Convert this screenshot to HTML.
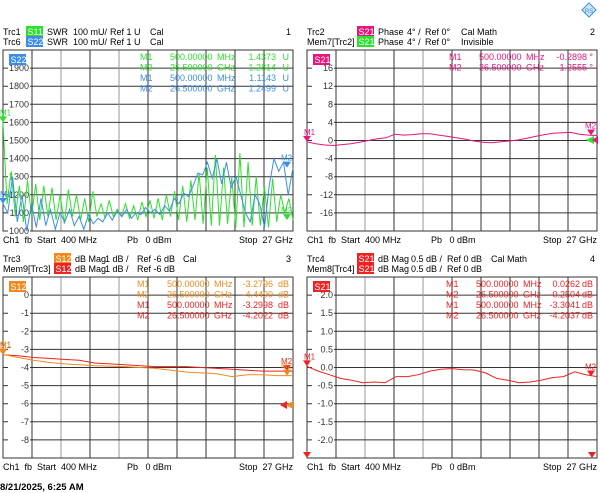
<!DOCTYPE html>
<html><head><meta charset="utf-8"><style>
html,body{margin:0;padding:0;background:#fff;}
svg{display:block;font-family:"Liberation Sans",sans-serif;}
svg text{white-space:pre;}
</style></head><body>
<svg id="s" width="600" height="493" viewBox="0 0 600 493" xmlns="http://www.w3.org/2000/svg">
<g><rect x="584" y="5" width="10" height="10" transform="rotate(45 589 10)" fill="#cfe6fa" stroke="#3a8fd8" stroke-width="1"/><text x="589" y="13" font-size="6" fill="#3a8fd8" text-anchor="middle">RS</text></g>
<text x="0" y="490" font-size="9.5" font-weight="bold" fill="#000">8/21/2025, 6:25 AM</text>
</svg>
<script>
// ---- data (x spans Start 400 MHz to Stop 27 GHz uniformly) ----
const p1Ticks=["1900","1800","1700","1600","1500","1400","1300","1200","1100","1000"];
const p2Ticks=["16","12","8","4","0","-4","-8","-12","-16"];
const p3Ticks=["0","-1","-2","-3","-4","-5","-6","-7","-8"];
const p4Ticks=["2.0","1.5","1.0","0.5","0.0","-0.5","-1.0","-1.5","-2.0"];
const s11Swr=[1600,1150,1330,1080,1250,1050,1280,1080,1260,1060,1250,1080,1240,1060,1200,1040,1230,1080,1200,1060,1180,1050,1220,1080,1150,1070,1170,1080,1120,1080,1150,1070,1140,1060,1160,1080,1170,1070,1180,1060,1200,1080,1220,1060,1250,1050,1280,1060,1320,1040,1350,1030,1420,1030,1350,1040,1300,1020,1430,1020,1380,1030,1300,1030,1250,1020,1290,1050,1200,1100,1180,1060];
const s22Swr=[1150,1100,1300,1050,1200,1000,1150,1020,1180,1030,1120,1010,1100,1050,1120,1030,1080,1010,1090,1040,1070,1050,1100,1060,1110,1080,1120,1070,1100,1090,1130,1100,1120,1090,1140,1110,1180,1150,1210,1190,1250,1320,1310,1380,1290,1400,1260,1380,1240,1300,1200,1100,1050,1200,1150,1020,1250,1400,1330,1380,1200,1350];
const s21Phase=[-0.3,-0.7,-1.0,-1.1,-0.9,-0.7,-0.4,0,0.4,0.6,1.4,1.2,1.3,1.5,1.5,1.2,0.9,0.6,0.3,-0.1,-0.4,-0.5,-0.3,-0.1,0.1,0.5,0.9,1.3,1.6,1.7,1.8,1.4,1.2,1.1];
const s12Mag=[-3.28,-3.45,-3.6,-3.72,-3.8,-3.85,-3.9,-3.92,-3.95,-4.0,-4.05,-4.15,-4.25,-4.3,-4.35,-4.5,-4.4,-4.4,-4.45,-4.45];
const s12Mem=[-3.3,-3.35,-3.45,-3.5,-3.55,-3.6,-3.75,-3.8,-3.85,-3.9,-3.95,-3.95,-3.95,-4.0,-4.05,-4.1,-4.15,-4.2,-4.2,-4.2];
const s21Mag=[0.03,-0.1,-0.2,-0.3,-0.35,-0.42,-0.4,-0.42,-0.25,-0.25,-0.2,-0.1,-0.05,-0.03,-0.06,-0.07,-0.15,-0.3,-0.35,-0.42,-0.4,-0.35,-0.28,-0.25,-0.12,-0.2,-0.25];

const S=document.getElementById('s');const NS='http://www.w3.org/2000/svg';
const FS=9;
function mk(t,a,p){const e=document.createElementNS(NS,t);for(const k in a)e.setAttribute(k,a[k]);(p||S).appendChild(e);return e;}
function txt(x,y,s,c,anchor,p,size){const e=mk('text',{x:x,y:y,'font-size':size||FS,fill:c||'#000','text-anchor':anchor||'start'},p);e.textContent=s;return e;}
function badge(x,y,s,bg,p){mk('rect',{x:x,y:y-9,width:17,height:11,fill:bg},p);txt(x+1.5,y,s,'#fff','start',p,9);}

function panel(o){
 const g=mk('g',{});
 
 
 const L=o.x,R=o.x+290,T=o.y,B=o.y+181;
 const xs=v=>L+v*(R-L), ys=v=>T+(o.top-v)/(o.top-o.bot)*(B-T);
 o.hdr.forEach((h,i)=>{const y=T-15+i*10;txt(L,y,h[0],'#000','start',g);badge(L+o.bx,y,h[1],h[2],g);
  h[3].forEach(p=>txt(L+p[1],y,p[0],'#000','start',g));});
 txt(R-2,T-15,o.num,'#000','end',g);
 for(let i=1;i<10;i++){mk('line',{x1:L+i*29,x2:L+i*29,y1:T,y2:B,stroke:(i%2==0&&i<5)?'#999':'#333','stroke-width':1},g);
  mk('line',{x1:L,x2:R,y1:T+i*18.1,y2:T+i*18.1,stroke:'#333','stroke-width':1},g);}
 mk('rect',{x:L,y:T,width:290,height:181,fill:'none',stroke:'#333'},g);
 o.ticks.forEach((t,i)=>{const y=T+(i+1)*18.1;mk('rect',{x:L+5,y:y-4,width:22,height:8,fill:'#fff'},g);txt(L+26,y+3,t,'#333','end',g);});
 badge(L+6,T+13,o.badge[0],o.badge[1],g);
 o.mk.forEach((m,i)=>{const y=T+10+i*10.5;txt(L+o.mx,y,m[0],m[4],'start',g);txt(L+o.mx+30,y,m[1],m[4],'start',g);txt(L+o.mx+77,y,m[2],m[4],'start',g);txt(R-o.vr,y,m[3],m[4],'end',g);txt(R-4,y,o.unit,m[4],'end',g);});
 o.tr.forEach(t=>{const d=t.v.map((v,i)=>(i?'L':'M')+xs(i/(t.v.length-1)).toFixed(1)+' '+ys(v).toFixed(1)).join(' ');
  const pth=mk('path',{d:d,fill:'none',stroke:t.c,'stroke-width':1},g);
  
  
  const y0=ys(t.v[0]),y1=ys(t.v[t.v.length-1]);
  mk('path',{d:`M${L-4} ${y0-6}h8l-4 6z`,fill:t.c},g);
  txt(L-3,y0-7,'M1',t.c,'start',g,8);
  mk('path',{d:`M${R-10} ${y1-6}h8l-4 6z`,fill:t.c},g);
  txt(R-12,y1-7,'M2',t.c,'start',g,8);});
 (o.extra||[]).forEach(e=>mk('path',{d:e.d,fill:e.c},g));
 txt(L,B+12,'Ch1  fb  Start  400 MHz','#000','start',g);
 txt(L+124,B+12,'Pb   0 dBm','#000','start',g);
 txt(R,B+12,'Stop  27 GHz','#000','end',g);
}
const G='#2de02d',BL='#3b8ee8',PK='#e8157a',OR='#f08a1c',RD='#ee2222';
panel({name:'swr-panel',x:3,y:50,top:2000,bot:1000,num:'1',ticks:p1Ticks,unit:'U',badge:['S22',BL],bx:23,mx:137,vr:17,
 hdr:[['Trc1','S11',G,[['SWR',44],['100 mU/',70],['Ref 1 U',107],['Cal',147]]],['Trc6','S22',BL,[['SWR',44],['100 mU/',70],['Ref 1 U',107],['Cal',147]]]],
 mk:[['M1','500.00000','MHz','1.4373',G],['M2','26.500000','GHz','1.2814',G],['M1','500.00000','MHz','1.1143',BL],['M2','26.500000','GHz','1.2499',BL]],
 tr:[{n:'s11-swr-trace',c:G,v:s11Swr},{n:'s22-swr-trace',c:BL,v:s22Swr}]});
panel({name:'phase-panel',x:307,y:50,top:20,bot:-20,num:'2',ticks:p2Ticks,unit:'°',badge:['S21',PK],bx:50,mx:142,vr:10,
 hdr:[['Trc2','S21',PK,[['Phase',71],['4° /',100],['Ref 0°',118],['Cal Math',154]]],['Mem7[Trc2]','S21',G,[['Phase',71],['4° /',100],['Ref 0°',118],['Invisible',154]]]],
 mk:[['M1','500.00000','MHz','-0.2898',PK],['M2','26.500000','GHz','1.2555',PK]],
 tr:[{n:'s21-phase-trace',c:PK,v:s21Phase}],
 extra:[{d:'M586 140l8 -4v8z',c:G},{d:'M592 140l6 -4v8z',c:PK}]});
panel({name:'s12-mag-panel',x:3,y:277,top:1,bot:-9,num:'3',ticks:p3Ticks,unit:'dB',badge:['S12',OR],bx:51,mx:134,vr:20,
 hdr:[['Trc3','S12',OR,[['dB Mag',72],['1 dB /',102],['Ref -6 dB',134],['Cal',180]]],['Mem9[Trc3]','S12',RD,[['dB Mag',72],['1 dB /',102],['Ref -6 dB',134]]]],
 mk:[['M1','500.00000','MHz','-3.2796',OR],['M2','26.500000','GHz','-4.4490',OR],['M1','500.00000','MHz','-3.2998',RD],['M2','26.500000','GHz','-4.2022',RD]],
 tr:[{n:'s12-mem-trace',c:RD,v:s12Mem},{n:'s12-mag-trace',c:OR,v:s12Mag}],
 extra:[{d:'M280 405l7 -4v8z',c:RD},{d:'M286 405l7 -4v8z',c:OR}]});
panel({name:'s21-mag-panel',x:307,y:277,top:2.5,bot:-2.5,num:'4',ticks:p4Ticks,unit:'dB',badge:['S21',RD],bx:50,mx:139,vr:17,
 hdr:[['Trc4','S21',RD,[['dB Mag',71],['0.5 dB /',104],['Ref 0 dB',140],['Cal Math',184]]],['Mem8[Trc4]','S21',RD,[['dB Mag',71],['0.5 dB /',104],['Ref 0 dB',140]]]],
 mk:[['M1','500.00000','MHz','0.0262',RD],['M2','26.500000','GHz','-0.2504',RD],['M1','500.00000','MHz','-3.3041',RD],['M2','26.500000','GHz','-4.2037',RD]],
 tr:[{n:'s21-mag-trace',c:RD,v:s21Mag}],
 extra:[{d:'M303 452h8l-4 6z',c:RD},{d:'M588 452h8l-4 6z',c:RD}]});
</script>
</body></html>
